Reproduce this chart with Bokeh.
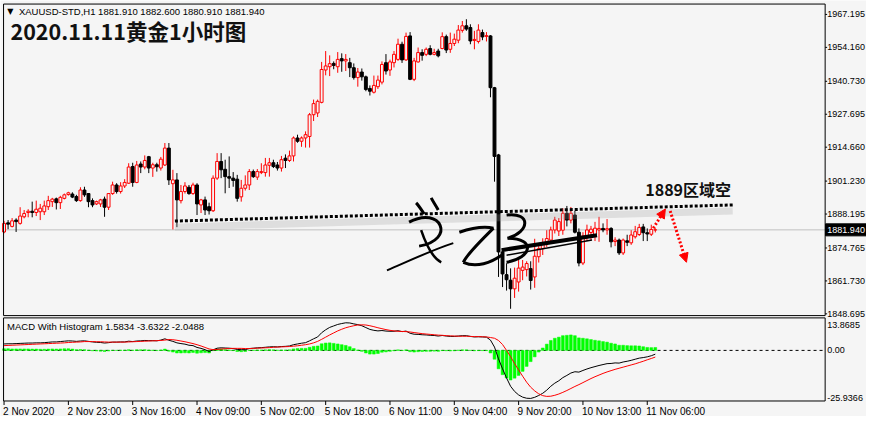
from bokeh.plotting import figure
from bokeh.models import Range1d, Label, Arrow, NormalHead, ColumnDataSource
from bokeh.core.properties import value
from bokeh.embed import file_html
from bokeh.resources import INLINE

BG = "#f5f5f5"
AXIS_FONT = "Liberation Sans"
SCALE_FONT_SIZE = "9px"

# ---------------- data (XAUUSD H1) ----------------
opens = [1881.1, 1884.7, 1883.3, 1885.8, 1884.5, 1887.1, 1888.8, 1889.3, 1888.8, 1889.1,
         1889.1, 1891.1, 1893.1, 1894.2, 1892.7, 1894.4, 1895.9, 1896.1, 1895.1, 1893.5,
         1897.7, 1896.3, 1893.5, 1892.2, 1892.2, 1894.1, 1890.9, 1896.3, 1899.7, 1897.1,
         1899.3, 1900.4, 1907.0, 1900.7, 1908.0, 1906.8, 1910.9, 1906.4, 1907.7, 1906.4,
         1907.6, 1914.3, 1900.2, 1901.7, 1893.5, 1897.1, 1898.8, 1896.3, 1899.7, 1891.8,
         1893.8, 1891.1, 1889.5, 1902.4, 1909.0, 1905.9, 1903.0, 1902.4, 1902.0, 1895.0,
         1898.4, 1899.7, 1905.0, 1902.8, 1904.6, 1904.6, 1907.5, 1908.5, 1907.6, 1906.4,
         1910.3, 1909.4, 1911.2, 1918.3, 1917.0, 1918.3, 1918.9, 1927.5, 1928.2, 1932.4,
         1945.2, 1946.5, 1947.8, 1946.5, 1949.7, 1948.8, 1948.1, 1946.1, 1942.2, 1944.4,
         1942.5, 1937.9, 1936.4, 1938.6, 1940.4, 1948.1, 1945.2, 1948.1, 1949.4, 1955.4,
         1949.2, 1958.7, 1941.5, 1948.4, 1952.1, 1951.4, 1953.7, 1951.4, 1952.7, 1953.7,
         1958.4, 1953.4, 1955.7, 1957.0, 1960.9, 1962.7, 1962.0, 1956.9, 1956.5, 1960.0,
         1958.5, 1958.7, 1938.2, 1911.6, 1873.2, 1864.2, 1862.0, 1858.6, 1861.3, 1865.9,
         1866.2, 1866.6, 1863.3, 1871.3, 1874.5, 1876.5, 1877.9, 1881.9, 1881.5, 1881.8,
         1888.5, 1885.8, 1887.8, 1881.0, 1868.8, 1879.2, 1880.9, 1880.0, 1881.9, 1882.5,
         1881.9, 1882.5, 1877.3, 1877.9, 1872.8, 1877.6, 1876.8, 1879.2, 1880.1, 1883.1,
         1880.8, 1880.2, 1881.91]
highs = [1885.5, 1885.8, 1886.6, 1886.5, 1890.9, 1889.8, 1890.1, 1893.1, 1893.5, 1892.2,
         1893.5, 1895.4, 1894.6, 1894.7, 1895.4, 1896.3, 1897.0, 1896.8, 1895.8, 1898.8,
         1899.0, 1896.4, 1894.4, 1893.5, 1894.2, 1895.1, 1896.4, 1901.0, 1900.4, 1900.8,
         1902.0, 1908.3, 1908.5, 1909.2, 1909.0, 1911.4, 1911.2, 1908.5, 1908.5, 1910.8,
         1916.3, 1916.3, 1905.7, 1904.4, 1899.7, 1900.8, 1899.7, 1900.6, 1900.4, 1894.2,
         1895.1, 1892.7, 1903.5, 1912.3, 1912.3, 1909.7, 1911.0, 1904.8, 1903.7, 1901.7,
         1903.5, 1906.0, 1905.8, 1906.0, 1908.3, 1910.4, 1910.4, 1909.7, 1908.8, 1911.2,
         1911.8, 1913.3, 1918.9, 1919.6, 1918.9, 1920.9, 1928.2, 1933.5, 1933.5, 1948.4,
         1952.7, 1951.0, 1948.6, 1952.3, 1951.8, 1951.5, 1950.0, 1947.8, 1946.0, 1945.8,
         1943.0, 1939.1, 1943.0, 1943.0, 1948.6, 1951.5, 1949.3, 1952.7, 1957.6, 1956.4,
         1960.0, 1960.2, 1950.0, 1954.1, 1953.4, 1954.1, 1955.0, 1953.6, 1953.6, 1960.1,
         1959.2, 1960.0, 1959.6, 1963.0, 1964.6, 1965.3, 1963.3, 1960.7, 1963.3, 1961.2,
         1960.2, 1959.0, 1938.5, 1912.0, 1874.0, 1868.7, 1866.7, 1867.0, 1870.0, 1870.0,
         1869.5, 1869.5, 1878.4, 1875.9, 1878.6, 1881.8, 1883.2, 1887.1, 1886.6, 1890.5,
         1891.4, 1891.0, 1889.5, 1882.5, 1881.0, 1884.0, 1883.5, 1885.1, 1887.1, 1884.5,
         1886.2, 1883.0, 1879.0, 1878.5, 1878.5, 1880.0, 1881.8, 1883.5, 1884.3, 1884.3,
         1882.5, 1884.0, 1882.60]
lows = [1880.6, 1882.2, 1882.9, 1881.1, 1884.0, 1886.5, 1886.9, 1886.9, 1887.4, 1885.8,
        1887.8, 1889.8, 1891.0, 1890.0, 1890.2, 1894.0, 1895.5, 1894.5, 1893.0, 1893.1,
        1895.0, 1890.9, 1890.9, 1891.8, 1891.0, 1887.1, 1889.8, 1895.8, 1896.3, 1896.3,
        1898.5, 1900.1, 1899.0, 1900.4, 1904.4, 1905.9, 1904.4, 1902.9, 1905.0, 1905.4,
        1907.2, 1899.7, 1882.1, 1883.0, 1892.4, 1896.3, 1895.8, 1895.8, 1887.8, 1888.6,
        1887.8, 1888.0, 1889.0, 1901.7, 1902.4, 1896.4, 1898.5, 1899.0, 1893.1, 1893.1,
        1897.5, 1897.7, 1902.5, 1901.7, 1904.0, 1903.0, 1903.0, 1906.4, 1905.4, 1905.0,
        1906.4, 1908.8, 1909.0, 1916.4, 1914.8, 1914.5, 1914.5, 1925.0, 1926.6, 1932.0,
        1943.1, 1942.8, 1945.5, 1944.1, 1944.5, 1944.8, 1942.4, 1941.4, 1938.6, 1941.0,
        1936.8, 1935.1, 1935.9, 1937.7, 1939.5, 1943.4, 1942.9, 1946.2, 1948.8, 1948.0,
        1948.8, 1941.2, 1940.8, 1948.1, 1948.9, 1950.7, 1951.0, 1951.0, 1950.2, 1953.4,
        1951.9, 1952.0, 1954.7, 1955.8, 1960.0, 1960.7, 1955.4, 1953.4, 1955.7, 1957.0,
        1956.5, 1934.4, 1901.0, 1863.3, 1859.3, 1857.9, 1850.7, 1855.0, 1857.5, 1862.0,
        1863.5, 1858.3, 1859.0, 1869.0, 1872.0, 1875.2, 1877.2, 1880.5, 1879.5, 1880.0,
        1883.3, 1884.5, 1880.5, 1867.5, 1868.0, 1877.5, 1878.0, 1877.5, 1877.2, 1881.0,
        1880.0, 1875.0, 1875.5, 1872.0, 1872.0, 1875.5, 1876.0, 1878.5, 1879.5, 1877.5,
        1877.5, 1879.5, 1880.91]
closes = [1884.5, 1884.2, 1885.5, 1885.2, 1887.4, 1888.4, 1889.3, 1888.8, 1890.1, 1890.5,
          1891.4, 1893.5, 1894.1, 1892.7, 1894.8, 1895.8, 1896.6, 1894.9, 1893.5, 1897.7,
          1895.8, 1893.1, 1891.8, 1893.1, 1893.8, 1890.9, 1896.3, 1899.7, 1897.1, 1899.3,
          1900.7, 1906.8, 1900.7, 1907.6, 1906.8, 1909.4, 1906.4, 1907.7, 1906.9, 1909.9,
          1914.3, 1901.7, 1901.7, 1893.8, 1897.1, 1899.3, 1896.3, 1899.7, 1892.2, 1893.8,
          1889.8, 1889.5, 1902.4, 1909.0, 1905.7, 1903.0, 1902.4, 1901.5, 1894.4, 1898.4,
          1899.7, 1905.0, 1903.0, 1905.0, 1905.0, 1907.6, 1908.5, 1907.0, 1906.4, 1909.7,
          1909.4, 1911.2, 1918.3, 1917.0, 1918.3, 1919.6, 1927.5, 1931.9, 1932.8, 1945.4,
          1946.8, 1947.7, 1947.0, 1949.4, 1948.8, 1949.4, 1946.1, 1942.2, 1944.4, 1942.5,
          1937.5, 1936.8, 1939.1, 1941.2, 1947.4, 1944.8, 1948.4, 1951.4, 1955.4, 1949.2,
          1958.5, 1941.5, 1948.8, 1952.1, 1951.0, 1953.4, 1951.4, 1952.1, 1950.8, 1958.4,
          1953.1, 1955.7, 1957.4, 1961.0, 1962.7, 1961.4, 1956.7, 1957.3, 1961.0, 1958.3,
          1958.8, 1938.2, 1911.0, 1873.2, 1864.5, 1862.2, 1858.6, 1862.8, 1866.8, 1867.2,
          1868.6, 1861.9, 1871.5, 1874.5, 1876.5, 1878.5, 1881.9, 1885.8, 1885.2, 1888.5,
          1885.8, 1888.5, 1881.0, 1868.8, 1879.5, 1881.9, 1882.2, 1882.6, 1882.5, 1881.9,
          1882.4, 1877.2, 1877.9, 1872.8, 1877.9, 1877.0, 1879.9, 1881.2, 1882.9, 1880.8,
          1880.3, 1882.1, 1881.94]

macd_main = [3.5, 3.6, 3.6, 3.7, 3.8, 3.9, 4.0, 4.0, 4.1, 4.1,
             4.2, 4.4, 4.6, 4.6, 4.8, 5.0, 5.2, 5.1, 4.9, 5.1,
             5.2, 4.9, 4.6, 4.4, 4.3, 4.0, 4.2, 4.5, 4.5, 4.6,
             4.6, 5.0, 4.8, 5.1, 5.2, 5.4, 5.3, 5.3, 5.2, 5.6,
             6.3, 5.5, 4.9, 4.1, 3.7, 3.4, 2.8, 2.6, 1.6, 1.1,
             0.4, -0.6, 0.3, 1.2, 1.4, 1.3, 1.2, 1.0, 0.5, 0.4,
             0.4, 1.0, 1.2, 1.4, 1.5, 1.7, 1.9, 2.0, 1.9, 2.1,
             2.2, 2.4, 3.1, 3.5, 3.9, 4.2, 5.2, 6.3, 7.3, 9.6,
             11.2, 12.5, 13.3, 14.1, 14.6, 15.0, 14.9, 14.4, 14.0, 13.4,
             12.4, 11.4, 10.9, 10.6, 10.8, 10.5, 10.4, 10.4, 10.7, 10.2,
             10.5, 9.3, 8.8, 8.7, 8.5, 8.4, 8.2, 8.1, 7.8, 8.1,
             7.8, 7.6, 7.6, 7.8, 8.0, 8.0, 7.6, 7.3, 7.4, 7.3,
             7.2, 5.6, 1.8, -4.6, -10.0, -15.0, -19.5, -22.3, -24.2, -25.4,
             -26.0, -26.1, -25.5, -24.5, -23.3, -21.6, -19.5, -17.8, -16.5, -14.8,
             -13.6, -12.3, -11.6, -11.8, -10.9, -10.1, -9.4, -8.8, -8.2, -7.7,
             -7.2, -7.1, -6.8, -6.9, -6.3, -5.9, -5.4, -4.8, -4.2, -3.9,
             -3.5, -2.9, -2.0488]
macd_signal = [2.6, 2.7, 2.8, 2.9, 3.0, 3.1, 3.2, 3.3, 3.4, 3.5,
               3.6, 3.7, 3.8, 3.9, 4.0, 4.1, 4.3, 4.4, 4.5, 4.6,
               4.8, 4.8, 4.8, 4.7, 4.7, 4.6, 4.5, 4.5, 4.5, 4.5,
               4.5, 4.6, 4.7, 4.8, 4.9, 5.0, 5.1, 5.2, 5.3, 5.4,
               5.6, 5.9, 5.8, 5.5, 5.1, 4.7, 4.2, 3.7, 3.1, 2.4,
               1.6, 0.8, 0.4, 0.5, 0.7, 0.9, 1.0, 1.1, 1.1, 1.1,
               1.0, 1.0, 1.1, 1.2, 1.3, 1.4, 1.5, 1.7, 1.8, 1.9,
               2.0, 2.1, 2.3, 2.5, 2.8, 3.1, 3.5, 4.1, 4.9, 6.0,
               7.2, 8.4, 9.5, 10.6, 11.5, 12.3, 12.9, 13.4, 13.8, 13.9,
               13.8, 13.4, 12.9, 12.3, 11.8, 11.3, 10.9, 10.6, 10.4, 10.3,
               10.2, 10.0, 9.7, 9.4, 9.1, 8.9, 8.7, 8.5, 8.3, 8.2,
               8.0, 7.9, 7.8, 7.7, 7.7, 7.7, 7.6, 7.5, 7.5, 7.4,
               7.3, 7.0, 6.6, 5.4, 3.2, 0.0, -3.4, -7.2, -10.6, -14.0,
               -17.3, -20.0, -22.0, -23.6, -24.6, -25.0, -24.9, -24.4, -23.7, -22.8,
               -21.8, -20.7, -19.6, -18.6, -17.5, -16.4, -15.3, -14.3, -13.4, -12.5,
               -11.7, -11.0, -10.3, -9.7, -9.1, -8.5, -7.9, -7.3, -6.6, -5.9,
               -5.1, -4.4, -3.6322]

price_ticks = [1967.195, 1954.160, 1940.730, 1927.695, 1914.660, 1901.230,
               1888.195, 1874.765, 1861.730, 1848.695]
macd_ticks = [13.8685, 0.0, -25.9366]
macd_tick_labels = ["13.8685", "0.00", "-25.9366"]
time_ticks = [0, 16, 32, 48, 64, 80, 96, 112, 128, 144, 160]
time_labels = ["2 Nov 2020", "2 Nov 23:00", "3 Nov 16:00", "4 Nov 09:00", "5 Nov 02:00",
               "5 Nov 18:00", "6 Nov 11:00", "9 Nov 04:00", "9 Nov 20:00", "10 Nov 13:00",
               "11 Nov 06:00"]
current_price = 1881.94
current_label = "1881.940"
info_text = "XAUUSD-STD,H1  1881.910 1882.600 1880.910 1881.940"
title_text = "2020.11.11黄金1小时图"
macd_text = "MACD With Histogram 1.5834 -3.6322 -2.0488"
zone_text = "1889区域空"
zone_x = [42.5, 181.25]
zone_y = [1885.4, 1891.8]

# ---------------- canvas geometry ----------------
W, H = 866, 416
PX_PER_BAR = 4.02
X_START = -3.56 / PX_PER_BAR
X_END = X_START + W / PX_PER_BAR
X_LEFT, X_RIGHT = -0.125, 204.25            # panel boxes, in bars
P_TOP, P_BOT = 1971.3, 1848.0               # price box
P_PX = 2.5267                               # px per dollar
M_TOP, M_BOT = 17.66, -27.5                 # MACD box
M_PX = 1.8401                               # px per MACD unit
P_RANGE = (P_TOP - (H - 3.56) / P_PX, P_TOP + 3.56 / P_PX)
M_RANGE = (M_BOT - (H - 400.5) / M_PX, M_TOP + 317.4 / M_PX)

n = len(opens)
idx = list(range(n))
up = [c >= o for o, c in zip(opens, closes)]
src = ColumnDataSource(dict(
    x=idx, o=opens, h=highs, l=lows, c=closes,
    top=[max(o, c) for o, c in zip(opens, closes)],
    bot=[min(o, c) for o, c in zip(opens, closes)],
    col=["#ff0000" if u else "#000000" for u in up],
    fill=[BG if u else "#000000" for u in up],
))
hist = [m - s for m, s in zip(macd_main, macd_signal)]
msrc = ColumnDataSource(dict(x=idx, m=macd_main, s=macd_signal, h=hist))

p = figure(width=W, height=H, x_range=Range1d(X_START, X_END),
           y_range=Range1d(*P_RANGE), toolbar_location=None, output_backend="svg",
           min_border=0, background_fill_color=BG, border_fill_color=BG)
p.extra_y_ranges = {"macd": Range1d(*M_RANGE)}
p.outline_line_color = None
p.grid.visible = False
p.axis.visible = False

# ---------------- price panel ----------------
p.segment(x0=[X_LEFT], y0=[current_price], x1=[X_RIGHT], y1=[current_price],
          line_color="#c0c0c0", line_width=1)
p.segment(x0="x", y0="l", x1="x", y1="h", color="col", line_width=1, source=src)
p.vbar(x="x", top="top", bottom="bot", width=0.72, fill_color="fill",
       line_color="col", line_width=1, source=src)

p.quad(left=[X_LEFT], right=[X_RIGHT], top=[P_TOP], bottom=[P_BOT],
       fill_color=None, line_color="black", line_width=1)
p.segment(x0=[X_RIGHT] * len(price_ticks), x1=[X_RIGHT + 0.5] * len(price_ticks),
          y0=price_ticks, y1=price_ticks, line_color="black", line_width=1)
p.text(x=[X_RIGHT + 0.3] * len(price_ticks), y=price_ticks,
       text=["%.3f" % v for v in price_ticks], text_font=value(AXIS_FONT),
       text_font_size=SCALE_FONT_SIZE, text_color="black", text_align="left",
       text_baseline="middle", x_offset=1)
p.quad(left=[X_RIGHT + 0.1], right=[X_END], top=[current_price + 6 / P_PX],
       bottom=[current_price - 6 / P_PX], fill_color="black", line_color="black")
p.text(x=[X_RIGHT + 0.3], y=[current_price], text=[current_label], text_font=value(AXIS_FONT),
       text_font_size=SCALE_FONT_SIZE, text_color="white", text_align="left",
       text_baseline="middle", x_offset=1)

# author's annotations
p.line(zone_x, [v - 2.4 for v in zone_y], line_color="#9a9a9a", line_alpha=0.25, line_width=7)
p.line(zone_x, zone_y, line_color="black", line_width=3, line_dash="3 2")

p.add_layout(Arrow(x_start=161.5, y_start=1882.6, x_end=164.5, y_end=1890.2,
                   line_color="red", line_width=3, line_dash="2 2",
                   end=NormalHead(size=9, fill_color="red", line_color="red")))
p.add_layout(Arrow(x_start=165.7, y_start=1889.4, x_end=169.75, y_end=1869.1,
                   line_color="red", line_width=3, line_dash="2 2",
                   end=NormalHead(size=9, fill_color="red", line_color="red")))

sig = ColumnDataSource(dict(
    x0=[95.25, 102.5, 106.25, 100.75, 103.75, 113.25, 121.75, 114.25, 125.0, 125.25, 123.75, 125.0],
    y0=[1865.9, 1892.6, 1894.6, 1885.0, 1881.8, 1881.0, 1882.6, 1869.1, 1887.8, 1878.6, 1873.9, 1871.9],
    cx0=[100.0, 103.25, 106.75, 108.75, 105.0, 116.25, 118.75, 117.5, 131.25, 132.5, 131.75, 132.0],
    cy0=[1869.1, 1891.4, 1893.0, 1891.8, 1875.9, 1882.6, 1877.9, 1866.7, 1889.0, 1878.6, 1875.9, 1873.9],
    cx1=[106.25, 104.0, 107.5, 112.5, 106.75, 119.25, 115.0, 121.25, 130.75, 131.25, 139.5, 139.0],
    cy1=[1873.9, 1889.4, 1891.4, 1877.9, 1870.7, 1883.4, 1871.9, 1869.1, 1881.0, 1870.7, 1877.9, 1875.9],
    x1=[111.75, 104.5, 108.0, 103.25, 108.75, 121.75, 114.25, 123.75, 125.25, 125.0, 147.5, 146.25],
    y1=[1876.7, 1888.2, 1889.8, 1875.5, 1869.1, 1882.6, 1869.1, 1871.9, 1878.6, 1869.1, 1879.8, 1877.9],
    lw=[2, 3, 3, 3, 2.5, 3, 3, 3, 3, 3, 4, 1.5],
))
p.bezier(x0="x0", y0="y0", x1="x1", y1="y1", cx0="cx0", cy0="cy0", cx1="cx1", cy1="cy1",
         line_color="black", line_width="lw", source=sig)

p.add_layout(Label(x=0.8, y=1968.3, text="▼", text_font="DejaVu Sans", text_font_size="8px",
                   text_color="black", text_baseline="middle", text_align="left"))
p.add_layout(Label(x=3.7, y=1968.3, text=info_text, text_font=AXIS_FONT, text_font_size="9.5px",
                   text_color="black", text_baseline="middle", text_align="left"))
p.add_layout(Label(x=1.6, y=1960.8, text=title_text, text_font="Noto Sans CJK SC",
                   text_font_size="21.5px", text_font_style="bold", text_color="#111111",
                   text_baseline="middle", text_align="left"))
p.add_layout(Label(x=159.5, y=1898.3, text=zone_text, text_font="Noto Sans CJK SC",
                   text_font_size="16px", text_font_style="bold", text_color="#111111",
                   text_baseline="middle", text_align="left"))

# ---------------- MACD panel (own y scale) ----------------
p.segment(x0=[X_LEFT], y0=[0], x1=[X_RIGHT], y1=[0], line_color="black",
          line_width=1, line_dash="3 3", y_range_name="macd")
p.vbar(x="x", top="h", bottom=0, width=0.7, fill_color="#00ff00", line_color="#00ff00",
       line_width=0.5, source=msrc, y_range_name="macd")
p.line("x", "m", line_color="black", line_width=1, source=msrc, y_range_name="macd")
p.line("x", "s", line_color="#ff0000", line_width=1, source=msrc, y_range_name="macd")

p.quad(left=[X_LEFT], right=[X_RIGHT], top=[M_TOP], bottom=[M_BOT],
       fill_color=None, line_color="black", line_width=1, y_range_name="macd")
p.text(x=[X_RIGHT + 0.3] * len(macd_ticks), y=macd_ticks, text=macd_tick_labels,
       text_font=value(AXIS_FONT), text_font_size=SCALE_FONT_SIZE, text_color="black",
       text_align="left", text_baseline="middle", x_offset=1, y_range_name="macd")
p.text(x=[0.75], y=[M_TOP - 9 / M_PX], text=[macd_text], text_font=value(AXIS_FONT),
       text_font_size="9.5px", text_color="black", text_align="left",
       text_baseline="middle", y_range_name="macd")

# time scale
p.segment(x0=time_ticks, x1=time_ticks, y0=[M_BOT] * len(time_ticks),
          y1=[M_BOT - 4 / M_PX] * len(time_ticks), line_color="black", line_width=1,
          y_range_name="macd")
p.text(x=[t - 0.25 for t in time_ticks], y=[M_BOT - 10 / M_PX] * len(time_ticks),
       text=time_labels, text_font=value(AXIS_FONT), text_font_size="10px",
       text_color="black", text_align="left", text_baseline="middle", y_range_name="macd")

open("out.html", "w").write(file_html(p, INLINE))
